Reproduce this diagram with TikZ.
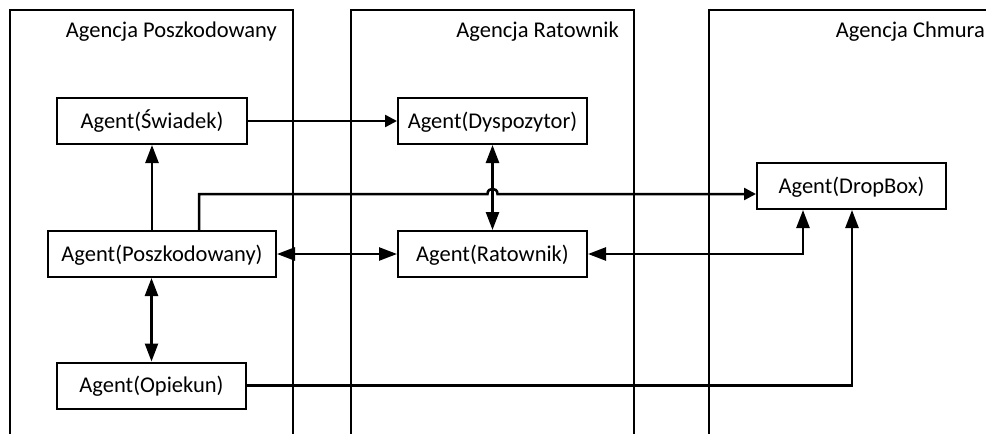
\documentclass[tikz,border=0pt]{standalone}
\usepackage{fontspec}
\setmainfont{Carlito}
\usetikzlibrary{arrows.meta,calc}
\begin{document}
\begin{tikzpicture}[x=1pt,y=-1pt,
 lane/.style={line width=1.6pt},
 lanelabel/.style={anchor=base east, inner sep=0pt, font=\fontsize{22.5}{27}\selectfont},
 agent/.style={draw, line width=2pt, minimum height=46pt, inner sep=0pt, text height=14.2pt, text depth=0pt, font=\fontsize{22.5}{27}\selectfont},
 conn/.style={line width=2.5pt},
 arr/.style={conn,-{Triangle[length=18pt,width=13pt]}},
 sarr/.style={conn,-{Triangle[length=12pt,width=12pt]}},
 darr/.style={conn,{Triangle[length=18pt,width=13pt]}-{Triangle[length=18pt,width=13pt]}}]
\clip (0,0) rectangle (986,434);
\draw[lane] (10,440) -- (10,10) -- (293,10) -- (293,440);
\draw[lane] (351,440) -- (351,10) -- (634,10) -- (634,440);
\draw[lane] (709,440) -- (709,10) -- (995,10);
\node[lanelabel] (l1) at (277,37.5) {Agencja Poszkodowany};
\node[lanelabel] (l2) at (619,37.5) {Agencja Ratownik};
\node[lanelabel] (l3) at (985,37.5) {Agencja Chmura};

\node[agent, minimum width=190pt] (sw) at (152,121) {Agent(Świadek)};
\node[agent, minimum width=189pt] (dy) at (492.5,121) {Agent(Dyspozytor)};
\node[agent, minimum width=228pt] (po) at (162,254) {Agent(Poszkodowany)};
\node[agent, minimum width=189pt] (ra) at (492.5,254) {Agent(Ratownik)};
\node[agent, minimum width=189pt] (db) at (851.5,186) {Agent(DropBox)};
\node[agent, minimum width=189pt] (op) at (151.5,385.5) {Agent(Opiekun)};

\draw[sarr] (sw) -- (dy);
\draw[arr] (sw.south |- po.north) -- (sw.south);
\draw[darr] (dy) -- (ra);
\draw[darr] (po) -- (ra);
\draw[darr] (op.north |- po.south) -- (op.north);
\coordinate (dbin1) at ([xshift=47pt]db.south west);
\coordinate (dbin2) at ([xshift=96pt]db.south west);
\draw[darr] (ra) -| (dbin1);
\draw[arr] (op) -| (dbin2);
\coordinate (pstart) at ([xshift=152pt]po.north west);
\coordinate (dbin3) at ([yshift=-8pt]db.west);
\coordinate (hop) at (dy.south |- dbin3);
\draw[sarr] (pstart) |- ([xshift=-5pt]hop) .. controls +(0,-7) and +(0,-7) .. ([xshift=5pt]hop) -- (dbin3);
\end{tikzpicture}
\end{document}
